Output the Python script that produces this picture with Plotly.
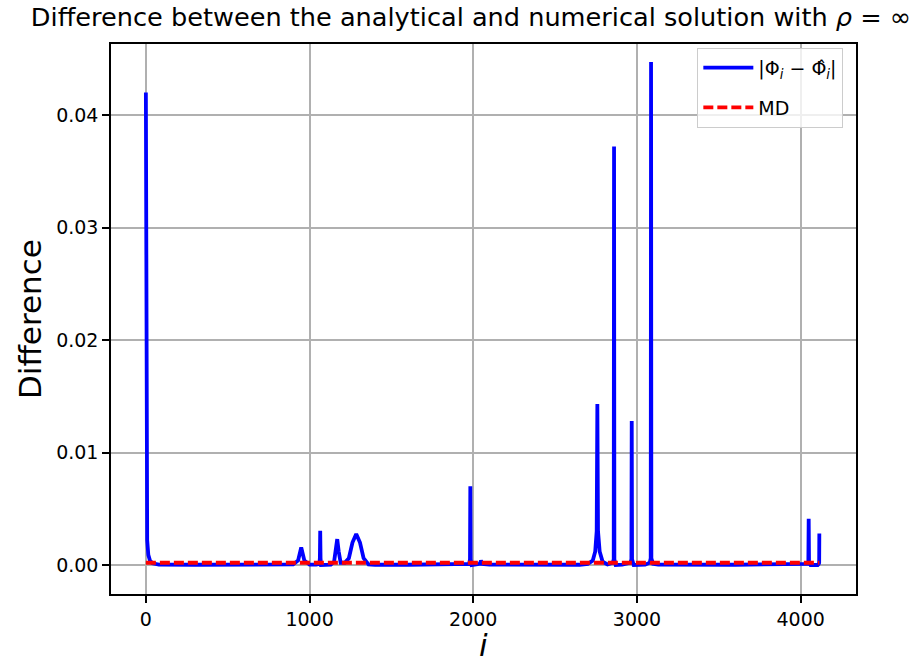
import plotly.graph_objects as go

# index positions and |Phi_i - hat Phi_i| values (aligned pairwise)
idx = [0,      2,      4,      8,      15,     25,     40,      80,
       300,    600,    850,    900,    930,    949,    968,     1000,
       1040,   1060,   1063,   1065,   1067,   1070,   1090,    1130,
       1150,   1160,   1169,   1178,   1190,   1215,   1240,    1262,
       1285,   1308,   1330,   1360,   1400,   1600,   1900,    1975,
       1980,   1982,   1984,   1990,   2030,   2040,   2047,    2055,
       2100,   2400,   2650,   2700,   2730,   2745,   2754,    2758,
       2762,   2772,   2790,   2820,   2852,   2858,   2860,    2862,
       2870,   2910,   2960,   2966,   2968,   2970,   2980,    3050,
       3078,   3084,   3086,   3088,   3098,   3130,   3600,    4000,
       4040,   4047,   4049,   4051,   4060,   4080,   4104,    4110,
       4113,   4114]
diff = [0.0420, 0.0300, 0.0080, 0.0022, 0.0009, 0.0004, 0.00015, 0.00004,
        0.00002, 0.00002, 0.00002, 0.00005, 0.0004, 0.00155, 0.0004, 0.00003,
        0.00003, 0.0001, 0.0006, 0.00305, 0.0006, 0.0,    0.0,     0.00003,
        0.0003, 0.0012, 0.0023, 0.0012, 0.0002, 0.0002, 0.0006,  0.0020,
        0.00275, 0.0020, 0.0006, 0.00005, 0.00002, 0.00002, 0.00002, 0.0001,
        0.0005, 0.0070, 0.0005, 0.0,    0.00003, 0.0001, 0.0004,  0.0001,
        0.00003, 0.00002, 0.00002, 0.0001, 0.0004, 0.0012, 0.0030,  0.0143,
        0.0030, 0.0012, 0.0003, 0.00005, 0.0002, 0.0005, 0.0372,  0.0005,
        0.0,    0.00003, 0.0002, 0.0005, 0.0128, 0.0005, 0.0,     0.00003,
        0.0002, 0.0006, 0.0447, 0.0006, 0.0001, 0.00003, 0.00002, 0.00002,
        0.0001, 0.0002, 0.0041, 0.0002, 0.0,    0.00002, 0.0,     0.0001,
        0.0002, 0.0028]
assert len(idx) == len(diff)

md_x = [0, 4114]
md_y = [0.0002, 0.0002]

x_ticks = [0, 1000, 2000, 3000, 4000]
y_ticks = [0.00, 0.01, 0.02, 0.03, 0.04]

FONT = "DejaVu Sans"

fig = go.Figure()
fig.add_trace(go.Scatter(
    x=idx, y=diff, mode="lines",
    line=dict(color="#0000ff", width=3.8),
    legendgroup="a",
    name="|Φ<sub><i>i</i></sub> − Φ\u0302<sub><i>i</i></sub>|"))
fig.add_trace(go.Scatter(
    x=md_x, y=md_y, mode="lines",
    line=dict(color="#ff0000", width=3.8, dash="10px,4px"),
    legendgroup="b",
    name="MD"))

axis_common = dict(
    showline=True, linecolor="black", linewidth=1.5, mirror=True,
    ticks="outside", ticklen=7, tickwidth=1.5, tickcolor="black",
    showgrid=True, gridcolor="#b0b0b0", gridwidth=1.5,
    zeroline=False, tickfont=dict(family=FONT, size=19, color="black"),
)

fig.update_layout(
    width=912, height=662,
    margin=dict(l=111, r=56, t=44, b=68),
    paper_bgcolor="white", plot_bgcolor="white",
    font=dict(family=FONT, color="black"),
    showlegend=True,
    legend=dict(x=0.983, y=0.993, xanchor="right", yanchor="top",
                itemwidth=50, tracegroupgap=12,
                bgcolor="rgba(255,255,255,0.8)", bordercolor="#cccccc",
                borderwidth=1, font=dict(family=FONT, size=19, color="black")),
    title=dict(text="Difference between the analytical and numerical solution with <i>ρ</i> = ∞",
               x=(471 - 111) / 745, xref="paper", xanchor="center", y=1 - 17 / 662,
               yanchor="middle", font=dict(family=FONT, size=25.6, color="black")),
)
fig.update_xaxes(range=[-213, 4338], tickvals=x_ticks,
                 ticktext=[str(v) for v in x_ticks], **axis_common)
fig.update_yaxes(range=[-0.002578, 0.046311], tickvals=y_ticks,
                 ticktext=[f"{v:.2f}" for v in y_ticks], **axis_common)

fig.add_annotation(text="<i>i</i>", xref="paper", yref="paper", x=0.5, y=-(645 - 594) / 550,
                   xanchor="center", yanchor="middle", showarrow=False,
                   font=dict(family=FONT, size=31, color="black"))
fig.add_annotation(text="Difference", xref="paper", yref="paper", x=-(111 - 30) / 745, y=0.5,
                   xanchor="center", yanchor="middle", textangle=-90, showarrow=False,
                   font=dict(family=FONT, size=31, color="black"))

fig.write_html("out.html")
